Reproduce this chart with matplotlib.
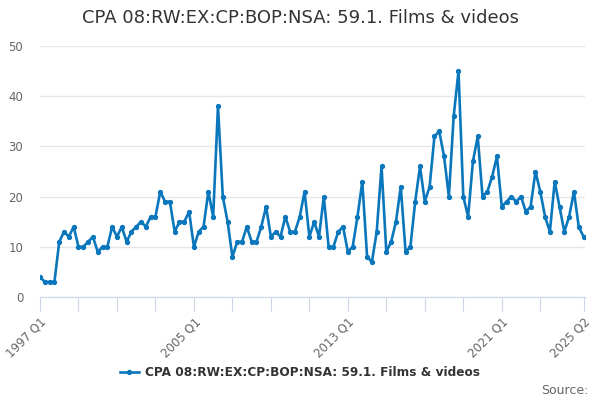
import numpy as np
import matplotlib.pyplot as plt

title = 'CPA 08:RW:EX:CP:BOP:NSA: 59.1. Films & videos'

# quarterly values, 1997 Q1 .. 2025 Q2
values = [4, 3, 3, 3,
          11, 13, 12, 14,
          10, 10, 11, 12,
          9, 10, 10, 14,
          12, 14, 11, 13,
          14, 15, 14, 16,
          16, 21, 19, 19,
          13, 15, 15, 17,
          10, 13, 14, 21,
          16, 38, 20, 15,
          8, 11, 11, 14,
          11, 11, 14, 18,
          12, 13, 12, 16,
          13, 13, 16, 21,
          12, 15, 12, 20,
          10, 10, 13, 14,
          9, 10, 16, 23,
          8, 7, 13, 26,
          9, 11, 15, 22,
          9, 10, 19, 26,
          19, 22, 32, 33,
          28, 20, 36, 45,
          20, 16, 27, 32,
          20, 21, 24, 28,
          18, 19, 20, 19,
          20, 17, 18, 25,
          21, 16, 13, 23,
          18, 13, 16, 21,
          14, 12]

quarters = ['%d Q%d' % (1997 + i // 4, i % 4 + 1) for i in range(len(values))]
label_cats = ['1997 Q1', '2005 Q1', '2013 Q1', '2021 Q1', '2025 Q2']
y_ticks = [0, 10, 20, 30, 40, 50]

line_col = '#0a77bd'
grey = '#666666'
axis_col = '#ccd6eb'

fig = plt.figure(figsize=(6, 4), dpi=100)
ax = fig.add_axes([40/600, 103/400, 545/600, 251/400])

x = np.arange(len(values))
ax.plot(x, values, color=line_col, lw=1.9, marker='o', ms=2.8, label=title, zorder=3)

ax.set_xlim(0, 113.3)
ax.set_ylim(0, 50)
ax.set_yticks(y_ticks)
ax.yaxis.grid(True, color='#e6e6e6', lw=1)
ax.set_axisbelow(True)
ax.tick_params(axis='y', length=0, labelsize=8.5, labelcolor=grey, pad=12)

tick_pos = list(range(0, 105, 8)) + [len(values) - 1]
ax.set_xticks(tick_pos)
ax.set_xticklabels([q if q in label_cats else '' for q in [quarters[i] for i in tick_pos]],
                   rotation=45, ha='right', va='top', rotation_mode='anchor')
ax.tick_params(axis='x', length=10, color=axis_col, labelsize=8.5, labelcolor=grey, pad=3)

for s in ['top', 'right', 'left']:
    ax.spines[s].set_visible(False)
ax.spines['bottom'].set_color(axis_col)

fig.text(0.5, 0.955, title, ha='center', va='center', fontsize=13, color='#333333')

leg = fig.legend(loc='center', bbox_to_anchor=(0.5, 27/400), frameon=False,
                 prop={'weight': 'bold', 'size': 8.7}, handlelength=1.6, handletextpad=0.5)
for t in leg.get_texts():
    t.set_color('#333333')

fig.text(588/600, 10/400, 'Source:', ha='right', va='center', fontsize=9, color=grey)

plt.savefig('out.png', dpi=100)
